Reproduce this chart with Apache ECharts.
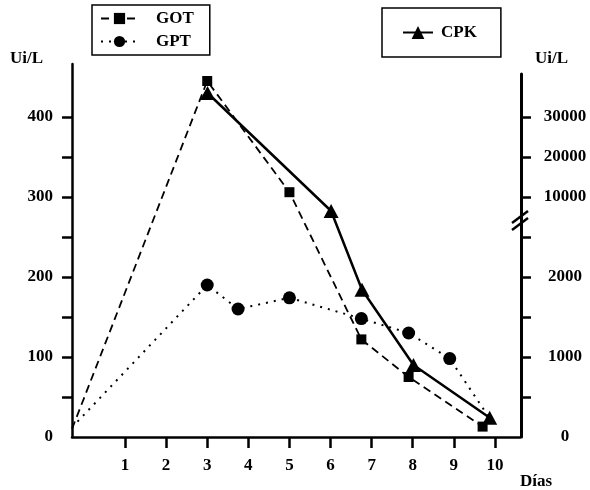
<!DOCTYPE html>
<html>
<head>
<meta charset="utf-8">
<script src="https://cdn.jsdelivr.net/npm/echarts@6/dist/echarts.min.js"></script>
<style>
  html, body { margin: 0; padding: 0; background: #fff; }
  #main { width: 590px; height: 490px; }
</style>
</head>
<body>
<div id="main"></div>
<script>
// x axis ticks (days)
const dayTicks = [1, 2, 3, 4, 5, 6, 7, 8, 9, 10];
// left axis (GOT / GPT, Ui/L)
const leftLabels = [0, 100, 200, 300, 400];
const leftTicks = [50, 100, 150, 200, 250, 300, 350, 400];
// right axis (CPK, Ui/L), broken scale
const rightLabels = [0, 1000, 2000, 10000, 20000, 30000];
const rightTicks = [500, 1000, 1500, 2000, 2500, 10000, 20000, 30000];

const gotDays = [-0.29, 3, 5, 6.75, 7.9, 9.7];
const gotValues = [10, 445, 306, 122, 75, 13];

const gptDays = [-0.29, 3, 3.75, 5, 6.75, 7.9, 8.9, 9.85];
const gptValues = [12, 190, 160, 174, 148, 130, 98, 25];

const cpkDays = [3, 6, 6.75, 8, 9.85];
const cpkValues = [36000, 6500, 1840, 900, 240];

// broken right scale: 0-2500 linear, then 10000 per 50 units above the break
function cpkPos(v) {
  return v <= 2500 ? v / 10 : 300 + (v - 10000) / 200;
}

const font = 'Liberation Serif';
const txt = { fontFamily: font, fontWeight: 'bold', fontSize: 17, color: '#000' };

const myChart = echarts.init(document.getElementById('main'));

const gotData = gotDays.map((d, i) => i === 0 ? { value: [d, gotValues[i]], symbol: 'none' } : [d, gotValues[i]]);
const gptData = gptDays.map((d, i) => (i === 0 || i === gptDays.length - 1)
  ? { value: [d, gptValues[i]], symbol: 'none' } : [d, gptValues[i]]);
const cpkData = cpkDays.map((d, i) => [d, cpkPos(cpkValues[i])]);

const rightLabelPos = rightLabels.map(cpkPos);

const option = {
  animation: false,
  grid: [
    { left: 72, right: 70, top: 64, bottom: 53 },
    { left: 72, right: 69, top: 74, bottom: 53 }
  ],
  legend: [
    {
      data: ['GOT', 'GPT'],
      orient: 'vertical',
      left: 92, top: 5,
      padding: [5, 16, 5, 8],
      itemGap: 6,
      itemWidth: 37, itemHeight: 14,
      borderColor: '#000', borderWidth: 1.5,
      selectedMode: false,
      textStyle: Object.assign({ padding: [0, 0, 0, 13] }, txt)
    },
    {
      data: ['CPK'],
      left: 382, top: 8,
      padding: [16, 24, 16, 20],
      itemWidth: 30, itemHeight: 16,
      borderColor: '#000', borderWidth: 1.5,
      selectedMode: false,
      textStyle: Object.assign({ padding: [0, 0, 0, 3] }, txt)
    }
  ],
  xAxis: [
    {
      type: 'value', gridIndex: 0,
      min: -0.29, max: 10.61,
      axisLine: { onZero: false, lineStyle: { color: '#000', width: 2.5 } },
      axisTick: { customValues: dayTicks, length: 11, lineStyle: { color: '#000', width: 2.5 } },
      axisLabel: Object.assign({ customValues: dayTicks, margin: 20 }, txt),
      splitLine: { show: false }
    },
    {
      type: 'value', gridIndex: 1, show: false,
      min: -0.29, max: 10.61
    }
  ],
  yAxis: [
    {
      type: 'value', gridIndex: 0,
      min: 0, max: 466.25,
      axisLine: { show: true, onZero: false, lineStyle: { color: '#000', width: 2.5 } },
      axisTick: { customValues: leftTicks, length: 10, lineStyle: { color: '#000', width: 2.5 } },
      axisLabel: Object.assign({ customValues: leftLabels, margin: 19 }, txt),
      splitLine: { show: false }
    },
    {
      type: 'value', gridIndex: 1, position: 'right',
      min: 0, max: 453.75,
      axisLine: { show: true, onZero: false, lineStyle: { color: '#000', width: 3 } },
      axisTick: { customValues: rightTicks.map(cpkPos), length: 10, lineStyle: { color: '#000', width: 2.5 } },
      axisLabel: Object.assign({
        customValues: rightLabelPos, margin: 44, align: 'center',
        formatter: v => {
          const i = rightLabelPos.findIndex(p => Math.abs(p - v) < 0.01);
          return i >= 0 ? String(rightLabels[i]) : '';
        }
      }, txt),
      splitLine: { show: false }
    }
  ],
  series: [
    {
      name: 'GOT', type: 'line', xAxisIndex: 0, yAxisIndex: 0,
      data: gotData,
      symbol: 'rect', symbolSize: 10,
      itemStyle: { color: '#000' },
      lineStyle: { color: '#000', width: 1.8, type: [8, 5] }
    },
    {
      name: 'GPT', type: 'line', xAxisIndex: 0, yAxisIndex: 0,
      data: gptData,
      symbol: 'circle', symbolSize: 13,
      itemStyle: { color: '#000' },
      lineStyle: { color: '#000', width: 2, type: [2, 6] }
    },
    {
      name: 'CPK', type: 'line', xAxisIndex: 1, yAxisIndex: 1,
      data: cpkData,
      symbol: 'triangle', symbolSize: [15, 14],
      itemStyle: { color: '#000' },
      lineStyle: { color: '#000', width: 2.5 }
    }
  ],
  graphic: [
    { type: 'text', left: 10, top: 50, style: { text: 'Ui/L', fill: '#000', font: 'bold 17px "Liberation Serif"' } },
    { type: 'text', left: 535, top: 50, style: { text: 'Ui/L', fill: '#000', font: 'bold 17px "Liberation Serif"' } },
    { type: 'text', left: 520, top: 473, style: { text: 'Días', fill: '#000', font: 'bold 17px "Liberation Serif"' } },
    { type: 'line', shape: { x1: 512, y1: 223, x2: 528, y2: 211 }, style: { stroke: '#000', lineWidth: 2.5 } },
    { type: 'line', shape: { x1: 512, y1: 230, x2: 528, y2: 218 }, style: { stroke: '#000', lineWidth: 2.5 } }
  ]
};

myChart.setOption(option);
</script>
</body>
</html>
